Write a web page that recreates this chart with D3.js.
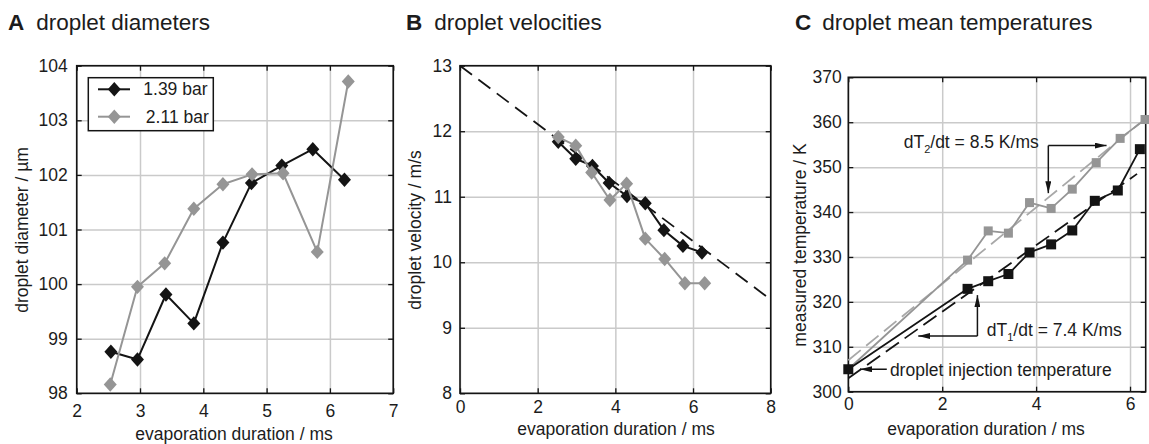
<!DOCTYPE html>
<html>
<head>
<meta charset="utf-8">
<script src="https://cdn.jsdelivr.net/npm/d3@7"></script>
<style>
  body { margin: 0; background: #fff; }
  svg { display: block; font-family: "Liberation Sans", Arial, Helvetica, sans-serif; }
</style>
</head>
<body>
<svg id="chart" width="1149" height="444"></svg>
<script>
// ---- data ----
// A: droplet diameters (µm) vs evaporation duration (ms)
const durA139 = [2.54, 2.96, 3.41, 3.85, 4.31, 4.76, 5.24, 5.73, 6.23];
const diam139 = [98.76, 98.62, 99.81, 99.28, 100.76, 101.85, 102.17, 102.47, 101.91];
const durA211 = [2.53, 2.96, 3.39, 3.85, 4.31, 4.77, 5.26, 5.80, 6.29];
const diam211 = [98.16, 99.95, 100.38, 101.38, 101.83, 102.01, 102.03, 100.59, 103.71];

// B: droplet velocities (m/s)
const durB139 = [2.53, 2.98, 3.41, 3.84, 4.30, 4.77, 5.25, 5.74, 6.23];
const vel139 = [11.84, 11.58, 11.47, 11.21, 11.01, 10.90, 10.49, 10.25, 10.15];
const durB211 = [2.53, 2.98, 3.39, 3.86, 4.29, 4.77, 5.27, 5.79, 6.30];
const vel211 = [11.91, 11.78, 11.37, 10.95, 11.20, 10.36, 10.05, 9.68, 9.68];
const velFitT = [0, 8];
const velFitV = [13.0, 9.43];

// C: droplet mean temperatures (K)
const injT = [0];
const injTemp = [305.0];
const durC1 = [2.54, 2.98, 3.41, 3.86, 4.32, 4.77, 5.25, 5.74, 6.21];
const temp1 = [322.9, 324.6, 326.2, 331.0, 332.8, 335.9, 342.5, 344.8, 354.0];
const durC2 = [2.54, 2.98, 3.41, 3.86, 4.32, 4.77, 5.28, 5.79, 6.32];
const temp2 = [329.3, 335.8, 335.3, 342.1, 340.8, 345.1, 351.0, 356.4, 360.6];
const fit1T = [0, 6.15], fit1Temp = [303.0, 348.5];
const fit2T = [0, 6.2], fit2Temp = [307.0, 359.7];

const ticksA_x = [2, 3, 4, 5, 6, 7], ticksA_y = [98, 99, 100, 101, 102, 103, 104];
const ticksB_x = [0, 2, 4, 6, 8], ticksB_y = [8, 9, 10, 11, 12, 13];
const ticksC_x = [0, 2, 4, 6], ticksC_y = [300, 310, 320, 330, 340, 350, 360, 370];
const legendLabels = ["1.39 bar", " 2.11 bar"];

// ---- drawing ----
const BLACK = "#141414", GRAY = "#959595", GRID = "#cacaca", TXT = "#1c1c1c";
const svg = d3.select("#chart");
const fmt = d3.format("d");

const defs = svg.append("defs");
defs.append("marker")
    .attr("id", "arrow")
    .attr("viewBox", "0 0 12 6")
    .attr("refX", 12).attr("refY", 3)
    .attr("markerUnits", "userSpaceOnUse")
    .attr("markerWidth", 12).attr("markerHeight", 6)
    .attr("orient", "auto")
    .append("path").attr("d", "M0,0L12,3L0,6Z").attr("fill", BLACK);

const zip = (xs, ys) => xs.map((v, i) => [v, ys[i]]);

function diamond(w, h) {
    return `M0,${-h}L${w},0L0,${h}L${-w},0Z`;
}

function drawPanel(p) {
    const x = d3.scaleLinear().domain(p.xDomain).range([p.left, p.right]);
    const y = d3.scaleLinear().domain(p.yDomain).range([p.bottom, p.top]);
    const g = svg.append("g");
    const h = p.bottom - p.top, w = p.right - p.left;

    // grid
    g.append("g")
        .attr("transform", `translate(0,${p.bottom})`)
        .call(d3.axisBottom(x).tickValues(p.xTicks).tickSize(-h).tickFormat(""))
        .call(a => a.select(".domain").remove())
        .selectAll("line").attr("stroke", GRID).attr("stroke-width", 1.5);
    g.append("g")
        .attr("transform", `translate(${p.left},0)`)
        .call(d3.axisLeft(y).tickValues(p.yTicks).tickSize(-w).tickFormat(""))
        .call(a => a.select(".domain").remove())
        .selectAll("line").attr("stroke", GRID).attr("stroke-width", 1.5);

    // inward tick marks on all sides
    const tk = 5;
    [[d3.axisBottom(x).tickValues(p.xTicks), `translate(0,${p.bottom})`],
     [d3.axisTop(x).tickValues(p.xTicks), `translate(0,${p.top})`],
     [d3.axisLeft(y).tickValues(p.yTicks), `translate(${p.left},0)`],
     [d3.axisRight(y).tickValues(p.yTicks), `translate(${p.right},0)`]].forEach(([ax, tr]) => {
        g.append("g").attr("transform", tr)
            .call(ax.tickSize(-tk).tickFormat(""))
            .call(a => a.select(".domain").remove())
            .selectAll("line").attr("stroke", BLACK).attr("stroke-width", 1.3);
    });

    // frame
    g.append("rect")
        .attr("x", p.left).attr("y", p.top).attr("width", w).attr("height", h)
        .attr("fill", "none").attr("stroke", BLACK).attr("stroke-width", 1.6);

    // tick labels
    g.append("g")
        .attr("transform", `translate(0,${p.bottom})`)
        .call(d3.axisBottom(x).tickValues(p.xTicks).tickFormat(fmt).tickSize(0).tickPadding(p.xPad))
        .call(a => a.select(".domain").remove())
        .selectAll("text").attr("fill", TXT).style("font-size", "17.5px");
    g.append("g")
        .attr("transform", `translate(${p.left},0)`)
        .call(d3.axisLeft(y).tickValues(p.yTicks).tickFormat(fmt).tickSize(0).tickPadding(p.yPad))
        .call(a => a.select(".domain").remove())
        .selectAll("text").attr("fill", TXT).style("font-size", "17.5px");

    // axis titles
    g.append("text")
        .attr("x", p.xLabelX).attr("y", p.xLabelY)
        .attr("text-anchor", "middle").attr("fill", TXT).style("font-size", "17.5px")
        .text("evaporation duration / ms");
    g.append("text")
        .attr("transform", `translate(${p.yLabelX},${p.yLabelY}) rotate(-90)`)
        .attr("text-anchor", "middle").attr("fill", TXT).style("font-size", "17.5px")
        .text(p.yLabel);

    // panel title
    const t = g.append("text").attr("x", p.titleX).attr("y", 30).attr("fill", TXT).style("font-size", "22.5px");
    t.append("tspan").attr("font-weight", "bold").text(p.letter);
    t.append("tspan").attr("dx", p.titleGap).text(p.title);

    return { x, y, g };
}

function series(panel, pts, color, width) {
    const line = d3.line().x(d => panel.x(d[0])).y(d => panel.y(d[1]));
    panel.g.append("path").datum(pts)
        .attr("d", line).attr("fill", "none")
        .attr("stroke", color).attr("stroke-width", width)
        .attr("stroke-linejoin", "round");
}

function diamonds(panel, pts, color) {
    panel.g.append("g").selectAll("path").data(pts).join("path")
        .attr("transform", d => `translate(${panel.x(d[0])},${panel.y(d[1])})`)
        .attr("d", diamond(6.5, 7.2)).attr("fill", color);
}

function squares(panel, pts, color, s) {
    panel.g.append("g").selectAll("rect").data(pts).join("rect")
        .attr("x", d => panel.x(d[0]) - s / 2).attr("y", d => panel.y(d[1]) - s / 2)
        .attr("width", s).attr("height", s).attr("fill", color);
}

function dashed(panel, pts, color, dash) {
    const line = d3.line().x(d => panel.x(d[0])).y(d => panel.y(d[1]));
    panel.g.append("path").datum(pts)
        .attr("d", line).attr("fill", "none")
        .attr("stroke", color).attr("stroke-width", 1.8)
        .attr("stroke-dasharray", dash);
}

// ---- Panel A ----
const pA = drawPanel({
    xDomain: [2, 7], yDomain: [98, 104], xTicks: ticksA_x, yTicks: ticksA_y,
    left: 76.7, right: 393.2, top: 65.7, bottom: 393.3,
    xPad: 11, yPad: 9, xLabelX: 234, xLabelY: 440, yLabelX: 28, yLabelY: 230,
    yLabel: "droplet diameter / µm", titleX: 8, letter: "A", titleGap: 12, title: "droplet diameters"
});
series(pA, zip(durA139, diam139), BLACK, 2);
diamonds(pA, zip(durA139, diam139), BLACK);
series(pA, zip(durA211, diam211), GRAY, 2);
diamonds(pA, zip(durA211, diam211), GRAY);

// legend
const leg = pA.g.append("g");
leg.append("rect").attr("x", 88.3).attr("y", 77.7).attr("width", 125).attr("height", 53)
    .attr("fill", "#fff").attr("stroke", BLACK).attr("stroke-width", 1.5);
[[BLACK, 89.3, 143.3], [GRAY, 116.7, 141]].forEach(([c, yy, tx], i) => {
    leg.append("line").attr("x1", 98).attr("x2", 130).attr("y1", yy).attr("y2", yy)
        .attr("stroke", c).attr("stroke-width", 2);
    leg.append("path").attr("transform", `translate(114.3,${yy})`).attr("d", diamond(6.5, 7.2)).attr("fill", c);
    leg.append("text").attr("x", tx).attr("y", yy + 6).attr("fill", TXT)
        .style("font-size", "17.5px").style("white-space", "pre").attr("xml:space", "preserve")
        .text(legendLabels[i]);
});

// ---- Panel B ----
const pB = drawPanel({
    xDomain: [0, 8], yDomain: [8, 13], xTicks: ticksB_x, yTicks: ticksB_y,
    left: 460, right: 770.7, top: 65.7, bottom: 393.3,
    xPad: 7, yPad: 8, xLabelX: 616, xLabelY: 435, yLabelX: 421, yLabelY: 230,
    yLabel: "droplet velocity / m/s", titleX: 406, letter: "B", titleGap: 12, title: "droplet velocities"
});
dashed(pB, zip(velFitT, velFitV), BLACK, "15,8");
series(pB, zip(durB139, vel139), BLACK, 2);
diamonds(pB, zip(durB139, vel139), BLACK);
series(pB, zip(durB211, vel211), GRAY, 2);
diamonds(pB, zip(durB211, vel211), GRAY);

// ---- Panel C ----
const pC = drawPanel({
    xDomain: [0, 6.334], yDomain: [300, 370], xTicks: ticksC_x, yTicks: ticksC_y,
    left: 848.3, right: 1145.7, top: 77.3, bottom: 391.7,
    xPad: 6, yPad: 6.5, xLabelX: 986, xLabelY: 435, yLabelX: 806, yLabelY: 245,
    yLabel: "measured temperature / K", titleX: 795, letter: "C", titleGap: 11, title: "droplet mean temperatures"
});
const inj = zip(injT, injTemp);
dashed(pC, zip(fit1T, fit1Temp), BLACK, "16,7");
dashed(pC, zip(fit2T, fit2Temp), "#a8a8a8", "16,7");
series(pC, inj.concat(zip(durC2, temp2)), GRAY, 1.8);
series(pC, inj.concat(zip(durC1, temp1)), BLACK, 1.8);
squares(pC, zip(durC2, temp2), GRAY, 9);
squares(pC, inj.concat(zip(durC1, temp1)), BLACK, 10);

// annotations (anchors in data units)
function arrow(panel, pts) {
    panel.g.append("path")
        .attr("d", d3.line().x(d => panel.x(d[0])).y(d => panel.y(d[1]))(pts))
        .attr("fill", "none").attr("stroke", BLACK).attr("stroke-width", 1.5)
        .attr("marker-end", "url(#arrow)");
}
function note(panel, t, T, main, sub, rest) {
    const txt = panel.g.append("text").attr("x", panel.x(t)).attr("y", panel.y(T))
        .attr("fill", TXT).style("font-size", "17.5px");
    txt.append("tspan").text(main);
    if (sub) {
        txt.append("tspan").attr("dy", 5).style("font-size", "11px").text(sub);
        txt.append("tspan").attr("dy", -5).text(rest);
    }
}
// dT2
note(pC, 1.18, 354.3, "dT", "2", "/dt = 8.5 K/ms");
arrow(pC, [[4.26, 354.8], [5.50, 354.8]]);
arrow(pC, [[4.26, 354.8], [4.26, 344.2]]);
// dT1
note(pC, 2.95, 312.3, "dT", "1", "/dt = 7.4 K/ms");
arrow(pC, [[2.75, 312.4], [2.75, 321.5]]);
arrow(pC, [[2.75, 312.4], [1.49, 312.4]]);
// injection
note(pC, 0.886, 303.6, "droplet injection temperature");
arrow(pC, [[0.82, 305.0], [0.25, 305.0]]);
</script>
</body>
</html>
